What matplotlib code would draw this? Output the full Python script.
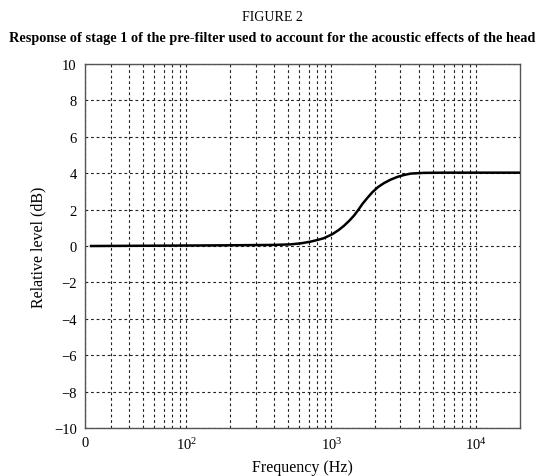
import numpy as np
import matplotlib
matplotlib.use("Agg")
import matplotlib.pyplot as plt

# values (frequency in Hz, level in dB)
freq = [22, 70, 200, 400, 523, 620, 719, 800, 889, 1016, 1120, 1222, 1330,
        1433, 1540, 1638, 1780, 1922, 2100, 2312, 2570, 2862, 3200, 3538,
        4374, 6000, 10000, 20000]
level = [0.0, 0.02, 0.04, 0.06, 0.09, 0.15, 0.24, 0.33, 0.43, 0.65, 0.87,
         1.11, 1.39, 1.67, 2.0, 2.31, 2.66, 2.96, 3.24, 3.46, 3.65, 3.80,
         3.91, 3.98, 4.02, 4.03, 4.03, 4.03]

x_major = [20, 100, 1000, 10000]
x_major_labels = ["0", "$10^2$", "$10^3$", "$10^4$"]
x_minor = [f * d for d in (10, 100, 1000) for f in range(2, 10) if f * d > 20]
y_ticks = list(range(-10, 11, 2))

plt.rcParams["font.family"] = ["Liberation Serif", "DejaVu Serif"]
plt.rcParams["mathtext.fontset"] = "custom"
plt.rcParams["mathtext.rm"] = "Liberation Serif"
plt.rcParams["mathtext.it"] = "Liberation Serif:italic"

fig = plt.figure(figsize=(5.45, 4.77), dpi=100)
ax = fig.add_axes([0.156, 0.1006, 0.798, 0.7631])

ax.semilogx(freq, level, color="black", linewidth=1.8, zorder=3)

ax.set_xlim(20, 20000)
ax.set_ylim(-10, 10)
ax.set_xticks(x_major, x_major_labels)
ax.set_xticks(x_minor, minor=True)
ax.set_yticks(y_ticks)
ax.tick_params(which="both", direction="in", length=0, labelsize=10.5, pad=6)
ax.grid(True, which="both", axis="x", color="#222222", linestyle=(0, (2.5, 2.5)), linewidth=0.8)
ax.grid(True, which="major", axis="y", color="#222222", linestyle=(0, (2.5, 2.5)), linewidth=0.8)

for s in ax.spines.values():
    s.set_color("#555555")
    s.set_linewidth(1.0)

ax.set_xlabel("Frequency (Hz)", fontsize=11.5, labelpad=5)
ax.set_ylabel("Relative level (dB)", fontsize=11.5, labelpad=5)

fig.text(0.5, 0.964, "FIGURE 2", ha="center", va="center", fontsize=10)
fig.text(0.5, 0.920, "Response of stage 1 of the pre-filter used to account for the acoustic effects of the head",
         ha="center", va="center", fontsize=10.3, fontweight="bold")

fig.savefig("out.png", dpi=100)
